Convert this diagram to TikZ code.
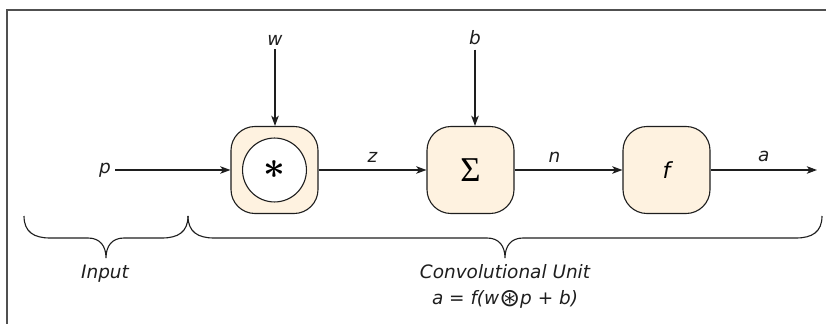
\documentclass[tikz,border=0pt]{standalone}
\usepackage{fontspec}
\setmainfont{DejaVu Sans}
\newfontfamily\sigfont{Liberation Serif}
\usetikzlibrary{arrows.meta}
\definecolor{creme}{HTML}{FEF2E0}
\definecolor{rahmen}{HTML}{505050}
\definecolor{strich}{HTML}{1E1E1E}
\tikzset{
  pfeil/.style={-{Stealth[length=3.4mm,width=2.5mm,inset=0.9mm]},strich,line width=1.05pt},
  block/.style={draw=strich,fill=creme,line width=1.05pt,rounded corners=0.8cm,minimum width=2.9cm,minimum height=2.9cm,inner sep=0pt},
  ring/.style={circle,draw=strich,fill=white,line width=1.05pt,minimum size=2.13cm,inner sep=0pt},
  lab/.style={font=\fontsize{17.5}{24.5}\selectfont\itshape,text=strich,inner sep=4pt},
  klammer/.style={strich,line width=1.05pt},
}
\begin{document}
\begin{tikzpicture}[x=0.03333cm,y=-0.03333cm]
  \useasboundingbox (0,0) rectangle (826,324);
  \draw[rahmen,line width=1.8pt] (7,330) -- (7,10) -- (830,10);
  \node[block] (conv) at (274.5,170) {};
  \node[ring] (star) at (conv) {\scalebox{3.6}{{\boldmath$\ast$}}};
  \node[block] (sum) at (470.5,170) {\fontsize{33}{33}\selectfont\sigfont Σ};
  \node[block] (act) at (666.5,170) {\fontsize{21}{21}\selectfont\itshape f};
  \node[lab] (p) at (105,170) {p};
  \node[lab] (w) at (275,40) {w};
  \node[lab] (b) at (475,38) {b};
  \coordinate (out) at (817,170);
  \draw[pfeil] (p) -- (conv);
  \draw[pfeil] (w) -- (w |- conv.north);
  \draw[pfeil] (b) -- (b |- sum.north);
  \draw[pfeil] (conv) -- (sum) node[lab,midway,above=3pt]{z};
  \draw[pfeil] (sum) -- (act) node[lab,pos=0.37,above=3pt]{n};
  \draw[pfeil] (act) -- (out) node[lab,midway,above=3pt]{a};
  \draw[klammer] (24,216) .. controls (24,232) and (34,238) .. (50,238) -- (88,238)
    .. controls (100,238) and (106,246) .. (106,258) .. controls (106,246) and (112,238) .. (124,238)
    -- (162,238) .. controls (178,238) and (188,232) .. (188,216);
  \draw[klammer] (188,216) .. controls (188,232) and (198,238) .. (214,238) -- (487,238)
    .. controls (499,238) and (505,246) .. (505,258) .. controls (505,246) and (511,238) .. (523,238)
    -- (796,238) .. controls (812,238) and (822,232) .. (822,216);
  \node[lab] (input) at (105,274) {Input};
  \node[lab,align=center] (unit) at (505,286) {Convolutional Unit\\a = f(w\raisebox{-0.12em}{\scalebox{1.35}{⊛}}p + b)};
\end{tikzpicture}
\end{document}
